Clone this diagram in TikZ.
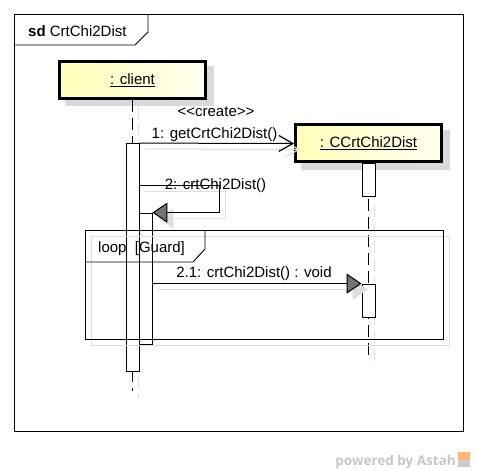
\documentclass[tikz,border=0pt]{standalone}
\usepackage{fontspec}
\setmainfont{Liberation Sans}[Ligatures=TeXOff]
\newfontfamily\markfont{Open Sans}
\usetikzlibrary{arrows.meta,positioning,calc}

\begin{document}
\begin{tikzpicture}[
	x=1pt,y=-1pt,
	every node/.style={font=\fontsize{15}{17}\selectfont, inner sep=0pt},
	lifehead/.style={draw, line width=3pt, left color=yellow!28, right color=yellow!6,
		minimum width=146pt, minimum height=37pt},
	headshadow/.style={fill=black!15, minimum width=149pt, minimum height=40pt},
	actbar/.style={draw, fill=white, line width=0.8pt, minimum width=13pt},
	lifeline/.style={line width=1pt, dash pattern=on 12pt off 6pt},
	shadowline/.style={draw=black!13, line width=1pt},
	msg/.style={line width=1pt},
	callmsg/.style={msg, -{Triangle[length=15pt,width=20pt,fill=black!55]}},
	createmsg/.style={msg, -{Straight Barb[length=14pt,width=16pt,line width=1.2pt]}},
	shadowcall/.style={shadowline, -{Triangle[length=15pt,width=20pt,fill=black!13]}},
	shadowcreate/.style={shadowline, -{Straight Barb[length=14pt,width=16pt,line width=1.2pt]}},
	frameline/.style={line width=0.9pt}
	]
	
	\useasboundingbox (0,0) rectangle (477,470);
	\fill[white] (0,0) rectangle (477,470);
	
	% --------------------------
	% sd frame
	% --------------------------
	\draw[frameline] (14,14) rectangle (463,431);
	\draw[frameline] (14,45) -- (135,45) -- (148,32) -- (148,14);
	\node[anchor=base west] (sdtitle) at (28,36.5) {\textbf{sd} CrtChi2Dist};
	
	% --------------------------
	% lifeline heads
	% --------------------------
	\node[headshadow] at (139,86.5) {};
	\node[lifehead] (client) at (132.5,80) {\underline{: client}};
	
	\node[headshadow] at (375,150) {};
	\node[lifehead] (cbox) at (368.5,143.5) {\underline{: CCrtChi2Dist}};
	
	\coordinate (clientEnd) at (132.5,391);
	\coordinate (ccrtEnd) at (368.5,358);
	
	% lifelines (with their shadows)
	\draw[lifeline, black!12] ($(client.south)+(6,6)$) -- ($(clientEnd)+(6,8)$);
	\draw[lifeline, black!12] ($(cbox.south)+(6,6)$) -- ($(ccrtEnd)+(6,8)$);
	\draw[lifeline] (client.south) -- (clientEnd);
	\draw[lifeline] (cbox.south) -- (ccrtEnd);
	
	% --------------------------
	% activations
	% --------------------------
	\node[actbar, minimum height=227.5pt] (actA) at (132.5,257.25) {};
	\node[actbar, minimum height=131pt] (actB) at (145.5,278.5) {};
	\node[actbar, minimum height=33pt, below=0pt of cbox] (actD) {};
	\node[actbar, minimum height=33pt] (actC) at (368.5,300.5) {};
	
	\coordinate (selfturn) at (219,186);
	
	% --------------------------
	% messages
	% --------------------------
	\begin{scope}[transform canvas={shift={(6,6)}}]
		\draw[shadowcreate] (actA.north east) -- (cbox.west);
		\draw[shadowline] (actA.east |- selfturn) -- (selfturn) -- (selfturn |- actB.north);
		\draw[shadowcall] (selfturn |- actB.north) -- (actB.north east);
		\draw[shadowcall] (actB.east |- actC.north west) -- (actC.north west);
	\end{scope}
	
	\draw[createmsg] (actA.north east) -- (cbox.west);
	\draw[msg] (actA.east |- selfturn) -- (selfturn) -- (selfturn |- actB.north);
	\draw[callmsg] (selfturn |- actB.north) -- (actB.north east);
	\draw[callmsg] (actB.east |- actC.north west) -- (actC.north west);
	
	\node (stereo) at (216,112) {<<create>>};
	\node[anchor=base] (m1label) at (214.5,139) {1: getCrtChi2Dist()};
	\node[anchor=base] (m2label) at (215.5,190) {2: crtChi2Dist()};
	\node[anchor=base] (m21label) at (254,278) {2.1: crtChi2Dist() : void};
	
	% --------------------------
	% loop fragment
	% --------------------------
	\draw[black!13] (91,236) rectangle (449,345);
	\draw[frameline] (85,230) rectangle (443,339);
	\draw[frameline] (85,262) -- (193,262) -- (205,249) -- (205,230);
	\node[anchor=base west] (looplabel) at (98,252.5) {loop\ \ [Guard]};
	
	% --------------------------
	% watermark
	% --------------------------
	\node[anchor=base east, font=\markfont\bfseries\fontsize{13.5}{15}\selectfont, text=black!22]
		(mark) at (456,466) {powered by Astah};
	\fill[orange!55] (458,452) rectangle (470,467);
	\fill[black!20] (458,460) rectangle (470,467);
	
\end{tikzpicture}
\end{document}
